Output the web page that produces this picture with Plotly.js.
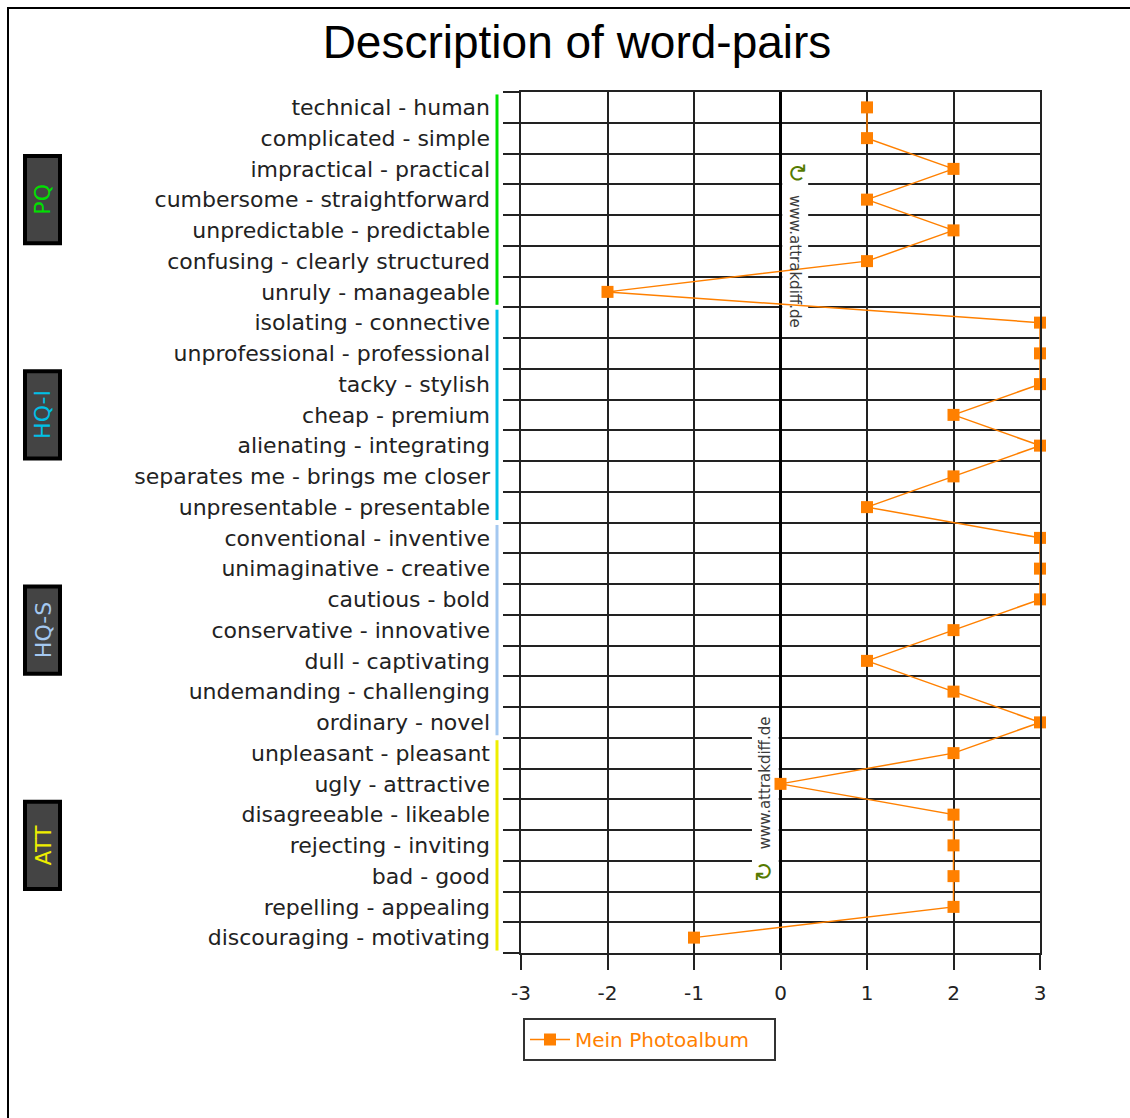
<!DOCTYPE html>
<html>
<head>
<meta charset="utf-8">
<script src="https://cdn.plot.ly/plotly-3.0.1.min.js"></script>
<style>html,body{margin:0;padding:0;background:#fff;}#chart{width:1130px;height:1118px;}</style>
</head>
<body>
<div id="chart"></div>
<script>
// ---- data ----
var wordPairs = [
  "technical - human", "complicated - simple", "impractical - practical",
  "cumbersome - straightforward", "unpredictable - predictable",
  "confusing - clearly structured", "unruly - manageable",
  "isolating - connective", "unprofessional - professional", "tacky - stylish",
  "cheap - premium", "alienating - integrating", "separates me - brings me closer",
  "unpresentable - presentable",
  "conventional - inventive", "unimaginative - creative", "cautious - bold",
  "conservative - innovative", "dull - captivating", "undemanding - challenging",
  "ordinary - novel",
  "unpleasant - pleasant", "ugly - attractive", "disagreeable - likeable",
  "rejecting - inviting", "bad - good", "repelling - appealing",
  "discouraging - motivating"
];
var photoalbumValues = [1, 1, 2, 1, 2, 1, -2, 3, 3, 3, 2, 3, 2, 1, 3, 3, 3, 2, 1, 2, 3, 2, 0, 2, 2, 2, 2, -1];
var seriesName = "Mein Photoalbum";
var groupNames = ["PQ", "HQ-I", "HQ-S", "ATT"];
var groupSizes = [7, 7, 7, 7];
var xTickVals = [-3, -2, -1, 0, 1, 2, 3];
var xTickText = ["-3", "-2", "-1", "0", "1", "2", "3"];
var chartTitle = "Description of word-pairs";
var watermark = "www.attrakdiff.de";

// ---- styling ----
var groupColors = ["#00e000", "#00c0e6", "#a4c8f0", "#eeee00"];
var labelFont = "DejaVu Sans";
var W = 1130, H = 1118;
var M = {l: 521, r: 90, t: 92, b: 165};
var PW = W - M.l - M.r, PH = H - M.t - M.b;
function px(x) { return (x - M.l) / PW; }
function py(y) { return (H - M.b - y) / PH; }

var rowIdx = wordPairs.map(function (_, i) { return i; });
var boundaries = [];
for (var i = 0; i <= wordPairs.length; i++) boundaries.push(i - 0.5);

var trace = {
  type: "scatter", mode: "lines+markers", name: seriesName,
  x: photoalbumValues, y: rowIdx,
  line: {color: "#ff8000", width: 1.5},
  marker: {symbol: "square", size: 12, color: "#ff8000"},
  cliponaxis: false
};
var labelTrace = {
  type: "scatter", mode: "markers", x: [], y: [], yaxis: "y2",
  showlegend: false, hoverinfo: "skip"
};

var shapes = [], annotations = [];
// figure border (top & left)
shapes.push({type: "line", xref: "paper", yref: "paper", x0: px(8), x1: px(1135), y0: py(8), y1: py(8), line: {color: "#000", width: 2}});
shapes.push({type: "line", xref: "paper", yref: "paper", x0: px(8), x1: px(8), y0: py(7), y1: py(1125), line: {color: "#000", width: 2}});

var start = 0;
groupNames.forEach(function (g, k) {
  var n = groupSizes[k];
  var y0 = start - 0.42, y1 = start + n - 1 + 0.42;
  shapes.push({type: "line", xref: "paper", yref: "y", x0: px(497), x1: px(497), y0: y0, y1: y1,
    line: {color: groupColors[k], width: 3}});
  var c = start + (n - 1) / 2;
  shapes.push({type: "rect", xref: "paper", yref: "y", x0: px(25), x1: px(60), y0: c - 1.42, y1: c + 1.42,
    fillcolor: "#444444", line: {color: "#000", width: 4}});
  annotations.push({xref: "paper", yref: "y", x: px(43), y: c, text: g, showarrow: false, textangle: -90,
    font: {family: labelFont, size: 22, color: groupColors[k]}, xanchor: "center", yanchor: "middle"});
  start += n;
});

// watermark backgrounds (cover the grid)
shapes.push({type: "rect", xref: "x", yref: "y", layer: "between", x0: 0.02, x1: 0.32, y0: 1.8, y1: 7.4,
  fillcolor: "#fff", line: {width: 0}});
shapes.push({type: "rect", xref: "x", yref: "y", layer: "between", x0: -0.33, x1: -0.02, y0: 19.7, y1: 25.4,
  fillcolor: "#fff", line: {width: 0}});
annotations.push({xref: "x", yref: "y", x: 0.17, y: 5.0, text: watermark, textangle: 90, showarrow: false,
  font: {family: "DejaVu Sans", size: 15, color: "#3a3a3a"}});
annotations.push({xref: "x", yref: "y", x: 0.2, y: 2.12, text: "↻", showarrow: false, textangle: 90,
  font: {family: "DejaVu Sans", size: 24, color: "#557a00"}});
annotations.push({xref: "x", yref: "y", x: -0.18, y: 21.95, text: watermark, textangle: -90, showarrow: false,
  font: {family: "DejaVu Sans", size: 15, color: "#3a3a3a"}});
annotations.push({xref: "x", yref: "y", x: -0.2, y: 24.85, text: "↻", showarrow: false, textangle: -90,
  font: {family: "DejaVu Sans", size: 24, color: "#557a00"}});

var layout = {
  width: W, height: H,
  margin: M,
  paper_bgcolor: "#fff", plot_bgcolor: "#fff",
  title: {text: chartTitle, font: {family: "Liberation Sans", size: 46, color: "#000"},
    x: 577 / W, xanchor: "center", xref: "container", y: 1 - 42 / H, yanchor: "middle", yref: "container"},
  xaxis: {
    range: [-3, 3], tickvals: xTickVals, ticktext: xTickText,
    showgrid: true, gridcolor: "#222", gridwidth: 2,
    zeroline: true, zerolinecolor: "#000", zerolinewidth: 3,
    showline: true, mirror: true, linecolor: "#222", linewidth: 2,
    ticks: "outside", ticklen: 15, tickwidth: 2, tickcolor: "#222",
    ticklabelstandoff: 6,
    tickfont: {family: labelFont, size: 20, color: "#222"}, fixedrange: true
  },
  yaxis: {
    range: [wordPairs.length - 0.5, -0.5], tickvals: boundaries,
    showticklabels: false, showgrid: true, gridcolor: "#222", gridwidth: 2,
    zeroline: false, showline: true, mirror: true, linecolor: "#222", linewidth: 2,
    ticks: "outside", ticklen: 16, tickwidth: 2, tickcolor: "#222", fixedrange: true
  },
  yaxis2: {
    overlaying: "y", side: "left", anchor: "x",
    range: [wordPairs.length - 0.5, -0.5], tickvals: rowIdx, ticktext: wordPairs,
    showgrid: false, zeroline: false, showline: false, ticks: "",
    ticklabelstandoff: 30,
    tickfont: {family: labelFont, size: 22, color: "#222"}, fixedrange: true
  },
  showlegend: true,
  legend: {x: px(523), xanchor: "left", y: py(1018), yanchor: "top",
    orientation: "h", entrywidth: 194, itemwidth: 40,
    bordercolor: "#333", borderwidth: 2, bgcolor: "#fff",
    font: {family: labelFont, size: 20, color: "#ff8000"}},
  shapes: shapes, annotations: annotations
};

Plotly.newPlot("chart", [trace, labelTrace], layout, {displayModeBar: false, staticPlot: true});
</script>
</body>
</html>
